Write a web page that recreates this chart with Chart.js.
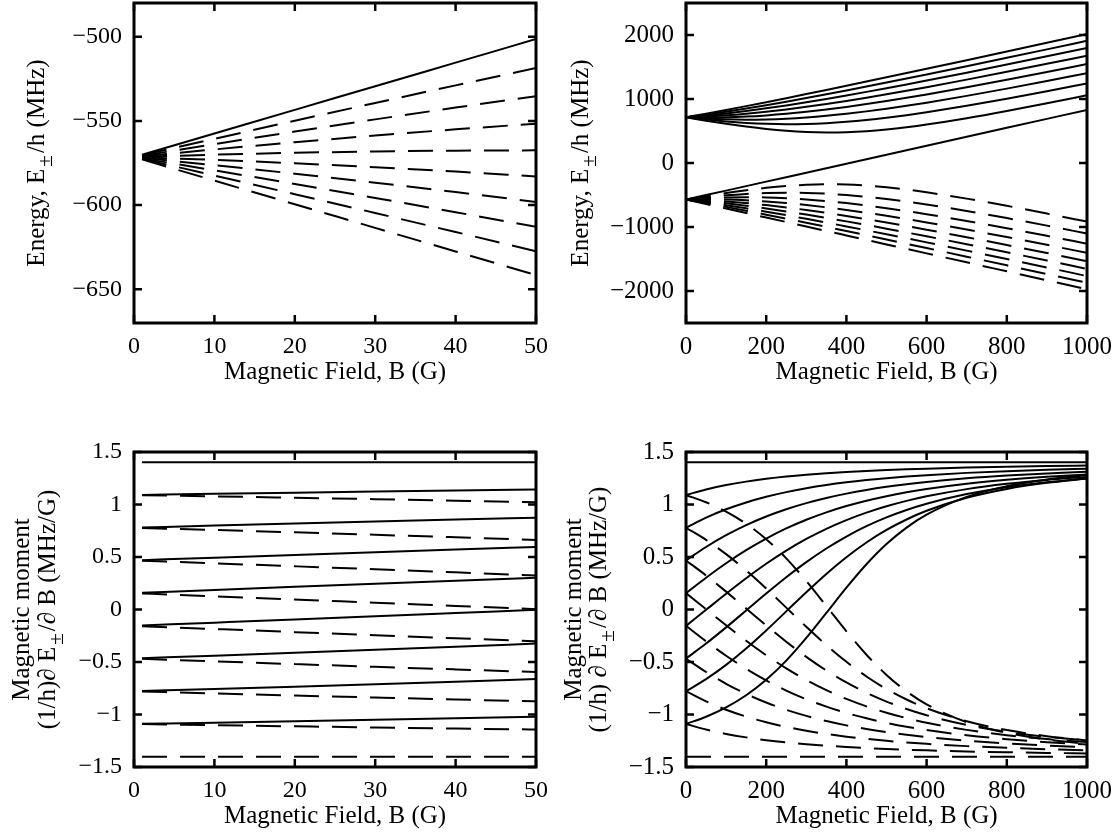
<!DOCTYPE html>
<html><head><meta charset="utf-8">
<script src="https://cdn.jsdelivr.net/npm/chart.js@4.4.0/dist/chart.umd.min.js"></script>
<style>
html,body{margin:0;padding:0;background:#fff;width:1120px;height:836px;overflow:hidden;}
canvas{position:absolute;}
</style></head><body>
<canvas id="tl" width="560" height="418" style="left:0;top:0"></canvas>
<canvas id="tr" width="560" height="418" style="left:560px;top:0"></canvas>
<canvas id="bl" width="560" height="418" style="left:0;top:418px"></canvas>
<canvas id="br" width="560" height="418" style="left:560px;top:418px"></canvas>
<script>
// ---------- field values (G) ----------
const lowB  = [1, 10, 20, 30, 40, 50];
const highB = [0, 50, 100, 150, 200, 250, 300, 350, 400, 450, 500, 550, 600, 700, 800, 900, 1000];

// ---------- tick values ----------
const ticksXLow = [0, 10, 20, 30, 40, 50];
const ticksXHigh = [0, 200, 400, 600, 800, 1000];
const ticksYEnergyLow = [-650, -600, -550, -500];
const ticksYEnergyHigh = [-2000, -1000, 0, 1000, 2000];
const ticksYMoment = [-1.5, -1, -0.5, 0, 0.5, 1, 1.5];

// ---------- top-left: energy, 0-50 G (lower manifold) ----------
const lowEnergySolid = [
  [-570.07, -557.46, -543.45, -529.43, -515.42, -501.41]
];
const lowEnergyDashed = [
  [-570.38, -560.63, -549.92, -539.35, -528.91, -518.62],
  [-570.69, -563.79, -556.33, -549.10, -542.11, -535.35],
  [-571.00, -566.94, -562.68, -558.71, -555.02, -551.63],
  [-571.32, -570.06, -568.96, -568.17, -567.67, -567.49],
  [-571.63, -573.18, -575.18, -577.49, -580.08, -582.97],
  [-571.94, -576.28, -581.35, -586.68, -592.26, -598.09],
  [-572.25, -579.36, -587.45, -595.74, -604.22, -612.88],
  [-572.56, -582.43, -593.50, -604.68, -615.97, -627.35],
  [-572.87, -585.48, -599.49, -613.51, -627.52, -641.53]
];

// ---------- top-right: energy, 0-1000 G ----------
const highEnergySolid = [
  [-571.47, -501.41, -431.35, -361.29, -291.23, -221.17, -151.11, -81.05, -10.99, 59.07, 129.13, 199.19, 269.25, 409.37, 549.49, 689.61, 829.73],
  [714.33, 770.21, 828.45, 888.56, 950.13, 1012.90, 1076.62, 1141.15, 1206.32, 1272.05, 1338.24, 1404.83, 1471.74, 1606.45, 1742.03, 1878.31, 2015.14],
  [714.33, 755.74, 801.53, 850.93, 903.32, 958.14, 1014.98, 1073.50, 1133.42, 1194.51, 1256.60, 1319.53, 1383.18, 1512.27, 1643.23, 1775.68, 1909.26],
  [714.33, 740.95, 773.57, 811.41, 853.71, 899.78, 949.03, 1000.95, 1055.14, 1111.21, 1168.90, 1227.95, 1288.16, 1411.49, 1537.82, 1666.47, 1796.90],
  [714.33, 725.83, 744.46, 769.66, 800.74, 836.99, 877.70, 922.25, 970.05, 1020.63, 1073.55, 1128.47, 1185.09, 1302.48, 1424.21, 1549.20, 1676.69],
  [714.33, 710.35, 714.03, 725.24, 743.60, 768.56, 799.42, 835.48, 876.03, 920.44, 968.13, 1018.60, 1071.44, 1182.84, 1300.14, 1421.79, 1546.73],
  [714.33, 694.48, 682.08, 677.58, 681.14, 692.63, 711.63, 737.49, 769.45, 806.72, 848.53, 894.19, 943.09, 1048.66, 1162.04, 1281.04, 1404.14],
  [714.33, 678.21, 648.37, 625.83, 611.50, 606.03, 609.71, 622.35, 643.35, 671.83, 706.80, 747.25, 792.25, 892.84, 1003.70, 1121.58, 1244.36],
  [714.33, 661.48, 612.56, 568.72, 531.42, 502.36, 483.29, 475.62, 480.00, 496.06, 522.55, 557.76, 599.96, 699.48, 812.26, 933.09, 1059.04]
];
const highEnergyDashed = [
  [-571.47, -518.62, -469.70, -425.86, -388.56, -359.50, -340.43, -332.76, -337.14, -353.20, -379.69, -414.90, -457.10, -556.62, -669.40, -790.23, -916.18],
  [-571.47, -535.35, -505.51, -482.97, -468.64, -463.17, -466.85, -479.49, -500.49, -528.97, -563.94, -604.39, -649.39, -749.98, -860.84, -978.72, -1101.50],
  [-571.47, -551.62, -539.22, -534.72, -538.28, -549.77, -568.77, -594.63, -626.59, -663.86, -705.67, -751.33, -800.23, -905.80, -1019.18, -1138.18, -1261.28],
  [-571.47, -567.49, -571.17, -582.38, -600.74, -625.70, -656.56, -692.62, -733.17, -777.58, -825.27, -875.74, -928.58, -1039.98, -1157.28, -1278.93, -1403.87],
  [-571.47, -582.97, -601.60, -626.80, -657.88, -694.13, -734.84, -779.39, -827.19, -877.77, -930.69, -985.61, -1042.23, -1159.62, -1281.35, -1406.34, -1533.83],
  [-571.47, -598.09, -630.71, -668.55, -710.85, -756.92, -806.17, -858.09, -912.28, -968.35, -1026.04, -1085.09, -1145.30, -1268.63, -1394.96, -1523.61, -1654.04],
  [-571.47, -612.88, -658.67, -708.07, -760.46, -815.28, -872.12, -930.64, -990.56, -1051.65, -1113.74, -1176.67, -1240.32, -1369.41, -1500.37, -1632.82, -1766.40],
  [-571.47, -627.35, -685.59, -745.70, -807.27, -870.04, -933.76, -998.29, -1063.46, -1129.19, -1195.38, -1261.97, -1328.88, -1463.59, -1599.17, -1735.45, -1872.28],
  [-571.47, -641.53, -711.59, -781.65, -851.71, -921.77, -991.83, -1061.89, -1131.95, -1202.01, -1272.07, -1342.13, -1412.19, -1552.31, -1692.43, -1832.55, -1972.67]
];

// ---------- bottom-left: magnetic moment, 0-50 G ----------
const lowMomentSolid = [
  [1.4012, 1.4012, 1.4012, 1.4012, 1.4012, 1.4012],
  [1.0910, 1.1016, 1.1128, 1.1234, 1.1335, 1.1432],
  [0.7806, 0.7992, 0.8192, 0.8384, 0.8570, 0.8748],
  [0.4698, 0.4939, 0.5202, 0.5458, 0.5708, 0.5951],
  [0.1587, 0.1857, 0.2155, 0.2450, 0.2742, 0.3030],
  [-0.1527, -0.1254, -0.0950, -0.0644, -0.0337, -0.0030],
  [-0.4643, -0.4396, -0.4116, -0.3831, -0.3540, -0.3244],
  [-0.7763, -0.7570, -0.7347, -0.7116, -0.6877, -0.6630],
  [-1.0886, -1.0775, -1.0644, -1.0507, -1.0362, -1.0211]
];
const lowMomentDashed = [
  [1.0886, 1.0775, 1.0644, 1.0507, 1.0362, 1.0211],
  [0.7763, 0.7570, 0.7347, 0.7116, 0.6877, 0.6630],
  [0.4643, 0.4396, 0.4116, 0.3831, 0.3540, 0.3244],
  [0.1527, 0.1254, 0.0950, 0.0644, 0.0337, 0.0030],
  [-0.1587, -0.1857, -0.2155, -0.2450, -0.2742, -0.3030],
  [-0.4698, -0.4939, -0.5202, -0.5458, -0.5708, -0.5951],
  [-0.7806, -0.7992, -0.8192, -0.8384, -0.8570, -0.8748],
  [-1.0910, -1.1016, -1.1128, -1.1234, -1.1335, -1.1432],
  [-1.4012, -1.4012, -1.4012, -1.4012, -1.4012, -1.4012]
];

// ---------- bottom-right: magnetic moment, 0-1000 G ----------
const highMomentSolid = [
  [1.4012, 1.4012, 1.4012, 1.4012, 1.4012, 1.4012, 1.4012, 1.4012, 1.4012, 1.4012, 1.4012, 1.4012, 1.4012, 1.4012, 1.4012, 1.4012, 1.4012],
  [1.0898, 1.1432, 1.1849, 1.2179, 1.2442, 1.2656, 1.2830, 1.2974, 1.3094, 1.3195, 1.3280, 1.3353, 1.3416, 1.3518, 1.3596, 1.3657, 1.3706],
  [0.7785, 0.8748, 0.9544, 1.0198, 1.0736, 1.1180, 1.1546, 1.1852, 1.2108, 1.2323, 1.2506, 1.2662, 1.2796, 1.3012, 1.3177, 1.3305, 1.3406],
  [0.4671, 0.5951, 0.7073, 0.8038, 0.8858, 0.9550, 1.0133, 1.0623, 1.1036, 1.1385, 1.1681, 1.1933, 1.2150, 1.2497, 1.2759, 1.2961, 1.3119],
  [0.1557, 0.3030, 0.4404, 0.5651, 0.6757, 0.7719, 0.8547, 0.9253, 0.9853, 1.0362, 1.0795, 1.1163, 1.1477, 1.1977, 1.2351, 1.2635, 1.2854],
  [-0.1557, -0.0030, 0.1498, 0.2974, 0.4353, 0.5605, 0.6716, 0.7684, 0.8517, 0.9228, 0.9832, 1.0344, 1.0779, 1.1465, 1.1969, 1.2344, 1.2630],
  [-0.4671, -0.3244, -0.1702, -0.0095, 0.1515, 0.3068, 0.4510, 0.5809, 0.6949, 0.7932, 0.8769, 0.9475, 1.0070, 1.0991, 1.1649, 1.2126, 1.2479],
  [-0.7785, -0.6630, -0.5271, -0.3715, -0.1996, -0.0180, 0.1645, 0.3389, 0.4981, 0.6380, 0.7574, 0.8573, 0.9400, 1.0639, 1.1480, 1.2061, 1.2472],
  [-1.0898, -1.0211, -0.9320, -0.8167, -0.6695, -0.4869, -0.2711, -0.0333, 0.2073, 0.4306, 0.6230, 0.7797, 0.9032, 1.0727, 1.1744, 1.2376, 1.2786]
];
const highMomentDashed = [
  [1.0898, 1.0211, 0.9320, 0.8167, 0.6695, 0.4869, 0.2711, 0.0333, -0.2073, -0.4306, -0.6230, -0.7797, -0.9032, -1.0727, -1.1744, -1.2376, -1.2786],
  [0.7785, 0.6630, 0.5271, 0.3715, 0.1996, 0.0180, -0.1645, -0.3389, -0.4981, -0.6380, -0.7574, -0.8573, -0.9400, -1.0639, -1.1480, -1.2061, -1.2472],
  [0.4671, 0.3244, 0.1702, 0.0095, -0.1515, -0.3068, -0.4510, -0.5809, -0.6949, -0.7932, -0.8769, -0.9475, -1.0070, -1.0991, -1.1649, -1.2126, -1.2479],
  [0.1557, 0.0030, -0.1498, -0.2974, -0.4353, -0.5605, -0.6716, -0.7684, -0.8517, -0.9228, -0.9832, -1.0344, -1.0779, -1.1465, -1.1969, -1.2344, -1.2630],
  [-0.1557, -0.3030, -0.4404, -0.5651, -0.6757, -0.7719, -0.8547, -0.9253, -0.9853, -1.0362, -1.0795, -1.1163, -1.1477, -1.1977, -1.2351, -1.2635, -1.2854],
  [-0.4671, -0.5951, -0.7073, -0.8038, -0.8858, -0.9550, -1.0133, -1.0623, -1.1036, -1.1385, -1.1681, -1.1933, -1.2150, -1.2497, -1.2759, -1.2961, -1.3119],
  [-0.7785, -0.8748, -0.9544, -1.0198, -1.0736, -1.1180, -1.1546, -1.1852, -1.2108, -1.2323, -1.2506, -1.2662, -1.2796, -1.3012, -1.3177, -1.3305, -1.3406],
  [-1.0898, -1.1432, -1.1849, -1.2179, -1.2442, -1.2656, -1.2830, -1.2974, -1.3094, -1.3195, -1.3280, -1.3353, -1.3416, -1.3518, -1.3596, -1.3657, -1.3706],
  [-1.4012, -1.4012, -1.4012, -1.4012, -1.4012, -1.4012, -1.4012, -1.4012, -1.4012, -1.4012, -1.4012, -1.4012, -1.4012, -1.4012, -1.4012, -1.4012, -1.4012]
];

// ---------- texts ----------
const xTitleText = 'Magnetic Field, B (G)';
const yTitleEnergy = [[['Energy, E', 0], ['\u00b1', 1], ['/h (MHz)', 0]]];
const yTitleMomentL = [[['Magnetic moment', 0]], [['(1/h)\u2202 E', 0], ['\u00b1', 1], ['/\u2202 B (MHz/G)', 0]]];
const yTitleMomentR = [[['Magnetic moment', 0]], [['(1/h) \u2202 E', 0], ['\u00b1', 1], ['/\u2202 B (MHz/G)', 0]]];

// ---------- style ----------
const FONT = "'Liberation Serif', 'Times New Roman', serif";
const TITLE_SIZE = 25;
const DASH = [25, 13];
const TICK_LEN = 8;
Chart.defaults.font.family = FONT;
Chart.defaults.font.size = 24;
Chart.defaults.color = '#000';

const fmt = v => String(v).replace('-', '\u2212');

function drawRich(ctx, segs, size) {
  const sub = size * 0.85, pad = 2;
  let total = 0;
  const w = segs.map(([t, s]) => { ctx.font = `${s ? sub : size}px ${FONT}`; const m = ctx.measureText(t).width + (s ? 2 * pad : 0); total += m; return m; });
  let x = -total / 2;
  ctx.textAlign = 'left'; ctx.textBaseline = 'middle';
  segs.forEach(([t, s], i) => {
    ctx.font = `${s ? sub : size}px ${FONT}`;
    ctx.fillText(t, x + (s ? pad : 0), s ? size * 0.36 : 0);
    x += w[i];
  });
}

const framePlugin = {
  id: 'frame',
  afterDraw(chart, args, o) {
    const {ctx, chartArea: a} = chart;
    const xs = chart.scales.x, ys = chart.scales.y;
    ctx.save();
    ctx.strokeStyle = '#000';
    ctx.lineWidth = 2.5;
    ctx.beginPath();
    o.xTicks.forEach(v => {
      const p = xs.getPixelForValue(v);
      ctx.moveTo(p, a.bottom); ctx.lineTo(p, a.bottom - TICK_LEN);
      ctx.moveTo(p, a.top); ctx.lineTo(p, a.top + TICK_LEN);
    });
    o.yTicks.forEach(v => {
      const p = ys.getPixelForValue(v);
      ctx.moveTo(a.left, p); ctx.lineTo(a.left + TICK_LEN, p);
      ctx.moveTo(a.right, p); ctx.lineTo(a.right - TICK_LEN, p);
    });
    ctx.stroke();
    ctx.lineWidth = 3;
    ctx.strokeRect(a.left, a.top, a.right - a.left, a.bottom - a.top);
    ctx.fillStyle = '#000';
    ctx.font = `${TITLE_SIZE}px ${FONT}`;
    ctx.textAlign = 'center'; ctx.textBaseline = 'middle';
    ctx.fillText(o.xTitle, (a.left + a.right) / 2, a.bottom + o.xTitleGap);
    const cy = (a.top + a.bottom) / 2;
    o.yTitle.forEach((line, i) => {
      ctx.save();
      ctx.translate(o.yTitleX[i], cy);
      ctx.rotate(-Math.PI / 2);
      drawRich(ctx, line, TITLE_SIZE);
      ctx.restore();
    });
    ctx.restore();
  }
};

function ds(xs, ys, dashed) {
  return {
    data: xs.map((x, i) => ({x: x, y: ys[i]})),
    borderColor: '#000', borderWidth: 2,
    borderDash: dashed ? DASH : [],
    pointRadius: 0, pointHoverRadius: 0,
    cubicInterpolationMode: 'monotone', fill: false
  };
}

function panel(id, p) {
  const datasets = [];
  p.solid.forEach(r => datasets.push(ds(p.xs, r, false)));
  p.dashed.forEach(r => datasets.push(ds(p.xs, r, true)));
  new Chart(document.getElementById(id), {
    type: 'line',
    data: {datasets},
    plugins: [framePlugin],
    options: {
      responsive: false, animation: false, devicePixelRatio: 1,
      layout: {padding: {left: 0, top: p.top, right: p.right, bottom: 0}},
      plugins: {
        legend: {display: false}, tooltip: {enabled: false},
        frame: {xTicks: p.xTicks, yTicks: p.yTicks, xTitle: xTitleText, xTitleGap: 49, yTitle: p.yTitle, yTitleX: p.yTitleX}
      },
      scales: {
        x: {
          type: 'linear', min: p.xMin, max: p.xMax,
          grid: {display: false, drawTicks: false}, border: {display: false},
          ticks: {padding: 9, maxRotation: 0, autoSkip: false, font: {size: p.tickSize}, callback: v => fmt(v)},
          afterBuildTicks: s => { s.ticks = p.xTicks.map(v => ({value: v})); },
          afterFit: s => { s.height = p.xAxisH; s.paddingLeft = 0; s.paddingRight = 0; }
        },
        y: {
          type: 'linear', min: p.yMin, max: p.yMax,
          grid: {display: false, drawTicks: false}, border: {display: false},
          ticks: {padding: 12, autoSkip: false, font: {size: p.tickSize}, callback: v => fmt(v)},
          afterBuildTicks: s => { s.ticks = p.yTicks.map(v => ({value: v})); },
          afterFit: s => { s.width = p.yAxisW; s.paddingTop = 0; s.paddingBottom = 0; }
        }
      }
    }
  });
}

panel('tl', {xs: lowB, solid: lowEnergySolid, dashed: lowEnergyDashed, xMin: 0, xMax: 50, yMin: -670, yMax: -480, tickSize: 24,
  xTicks: ticksXLow, yTicks: ticksYEnergyLow, top: 3, right: 24, yAxisW: 134, xAxisH: 95, yTitle: yTitleEnergy, yTitleX: [37]});
panel('tr', {xs: highB, solid: highEnergySolid, dashed: highEnergyDashed, xMin: 0, xMax: 1000, yMin: -2500, yMax: 2500, tickSize: 25,
  xTicks: ticksXHigh, yTicks: ticksYEnergyHigh, top: 3, right: 33, yAxisW: 126, xAxisH: 95, yTitle: yTitleEnergy, yTitleX: [21]});
panel('bl', {xs: lowB, solid: lowMomentSolid, dashed: lowMomentDashed, xMin: 0, xMax: 50, yMin: -1.5, yMax: 1.5, tickSize: 24,
  xTicks: ticksXLow, yTicks: ticksYMoment, top: 34, right: 24, yAxisW: 134, xAxisH: 69, yTitle: yTitleMomentL, yTitleX: [22, 48]});
panel('br', {xs: highB, solid: highMomentSolid, dashed: highMomentDashed, xMin: 0, xMax: 1000, yMin: -1.5, yMax: 1.5, tickSize: 25,
  xTicks: ticksXHigh, yTicks: ticksYMoment, top: 34, right: 33, yAxisW: 126, xAxisH: 69, yTitle: yTitleMomentR, yTitleX: [14, 39]});
</script>
</body></html>
